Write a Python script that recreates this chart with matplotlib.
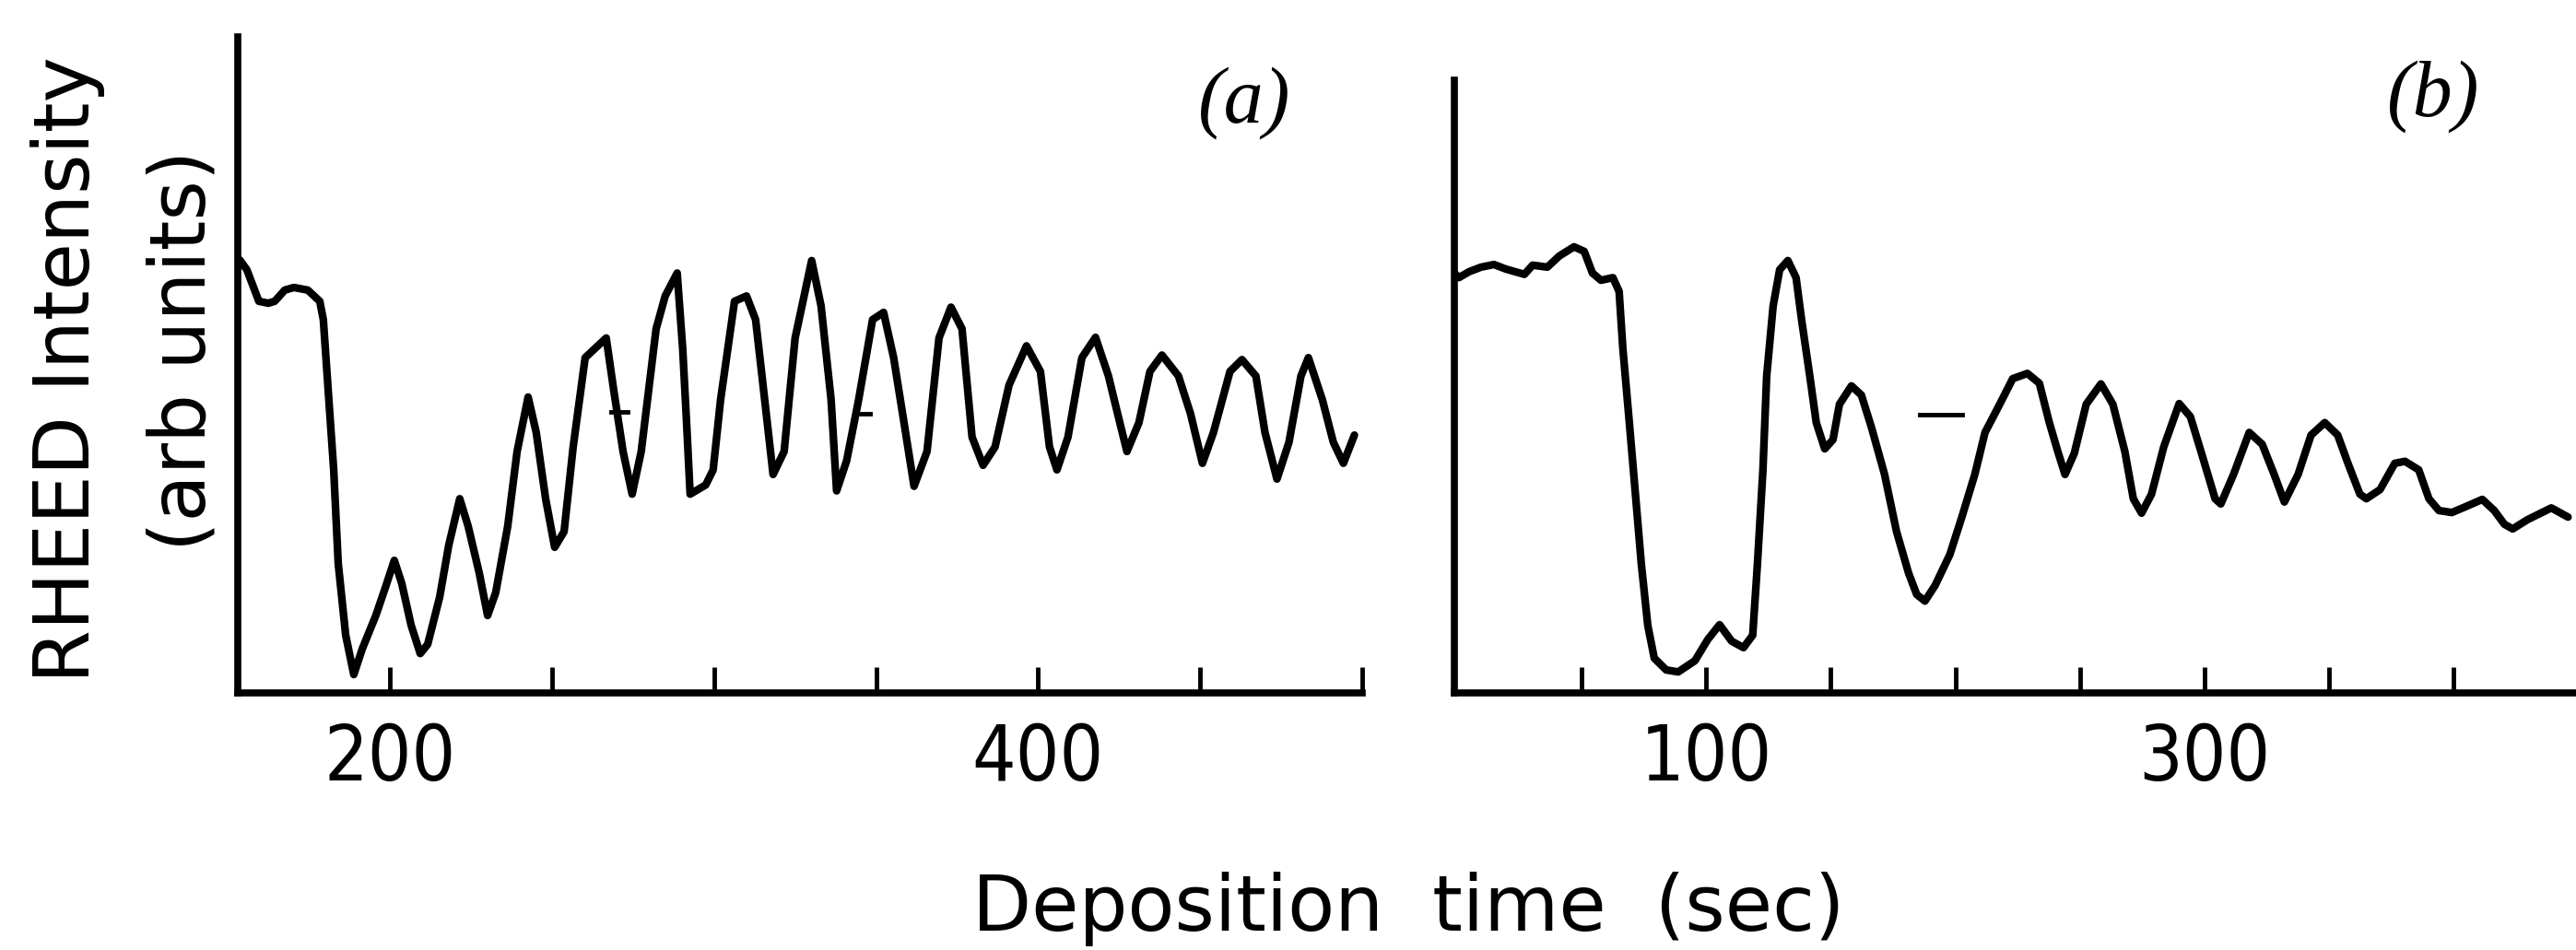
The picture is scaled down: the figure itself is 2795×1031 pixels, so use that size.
import matplotlib
matplotlib.use("Agg")
import matplotlib.pyplot as plt

# ---- data: panel (a) ----
time_a = [153.6, 155.8, 159.5, 162.4, 164.4, 167.5, 170.3, 174.6, 178.3, 179.4,
          181.1, 182.6, 184.0, 186.3, 188.8, 191.4, 195.6, 198.5, 201.3, 203.6,
          206.5, 209.3, 211.6, 215.3, 218.1, 221.5, 224.1, 227.5, 230.1, 232.6,
          236.3, 239.2, 242.6, 245.1, 248.0, 250.8, 253.7, 256.5, 260.2, 266.7,
          269.0, 271.9, 274.7, 277.5, 282.1, 284.9, 288.6, 290.3, 291.5, 292.6,
          297.4, 299.7, 302.0, 306.3, 310.0, 312.8, 315.6, 318.2, 321.6, 325.0,
          330.1, 333.0, 336.1, 337.8, 340.9, 344.6, 348.9, 352.3, 355.4, 358.6,
          361.7, 365.7, 369.4, 373.1, 376.5, 379.6, 383.0, 386.7, 391.0, 396.4,
          400.7, 403.5, 405.8, 409.2, 413.5, 417.7, 421.7, 424.5, 427.4, 431.1,
          434.5, 438.2, 443.3, 447.0, 450.7, 454.1, 459.2, 462.9, 467.2, 470.0,
          473.7, 477.4, 481.1, 483.4, 487.7, 491.1, 494.2, 497.6]
intensity_a = [66.0, 64.5, 59.7, 59.4, 59.7, 61.4, 61.8, 61.4, 59.7, 56.9,
               44.7, 34.0, 19.7, 8.8, 2.8, 6.7, 11.8, 16.0, 20.2, 16.7,
               10.3, 6.0, 7.4, 14.6, 22.5, 29.6, 25.4, 18.3, 11.8, 15.3,
               25.4, 36.8, 45.1, 39.7, 29.6, 22.2, 24.6, 37.5, 51.1, 54.1,
               46.2, 36.8, 30.3, 36.8, 55.5, 60.5, 64.0, 52.5, 41.2, 30.3,
               31.7, 34.0, 44.7, 59.7, 60.5, 56.9, 44.7, 33.3, 36.8, 54.1,
               65.9, 59.0, 44.7, 30.8, 35.4, 44.7, 56.9, 58.0, 51.1, 41.2,
               31.5, 36.8, 54.1, 58.8, 55.5, 39.0, 34.7, 37.5, 46.9, 52.9,
               49.0, 37.5, 34.0, 39.0, 51.1, 54.2, 48.3, 42.6, 36.8, 41.2,
               49.0, 51.5, 48.3, 42.6, 35.0, 39.7, 49.0, 50.8, 48.3, 39.7,
               32.6, 38.2, 48.3, 51.1, 44.7, 38.2, 35.0, 39.3]

# ---- data: panel (b) ----
time_b = [-1.0, 0.8, 4.9, 9.7, 14.9, 19.7, 27.1, 30.4, 36.3, 41.1,
          47.0, 51.1, 54.4, 57.8, 62.6, 65.1, 66.6, 69.2, 71.8, 74.0,
          76.6, 79.2, 84.0, 88.8, 95.5, 100.6, 105.4, 110.2, 115.0, 118.7,
          120.6, 122.8, 124.3, 126.9, 129.5, 132.8, 136.1, 138.3, 141.6, 144.2,
          147.6, 150.9, 153.5, 158.3, 162.3, 166.4, 171.6, 176.4, 181.2, 184.5,
          187.8, 191.9, 197.8, 202.6, 207.8, 211.9, 217.8, 223.0, 228.9, 233.7,
          237.7, 241.1, 244.0, 247.7, 252.5, 258.4, 263.2, 268.0, 271.4, 274.7,
          278.7, 283.6, 289.8, 294.3, 299.1, 304.2, 306.5, 311.6, 317.9, 323.1,
          327.9, 332.0, 337.5, 342.7, 348.2, 353.4, 357.5, 362.3, 364.9, 370.4,
          376.3, 380.4, 385.9, 390.0, 394.0, 399.2, 404.8, 411.4, 416.2, 420.3,
          423.6, 429.5, 439.1, 445.8]
intensity_b = [64.0, 63.3, 64.2, 64.9, 65.3, 64.6, 63.8, 65.2, 64.9, 66.6,
               68.0, 67.3, 64.0, 62.9, 63.3, 61.2, 52.5, 41.2, 29.6, 19.7,
               10.3, 5.3, 3.5, 3.2, 4.9, 8.1, 10.4, 7.9, 6.9, 8.8,
               19.7, 34.0, 48.3, 59.0, 64.5, 65.9, 63.3, 56.9, 48.3, 41.2,
               37.2, 38.6, 44.0, 46.8, 45.4, 40.4, 33.3, 24.6, 18.3, 15.0,
               14.0, 16.4, 21.1, 26.8, 33.3, 39.7, 44.0, 47.9, 48.7, 47.2,
               41.2, 36.8, 33.3, 36.5, 44.0, 47.1, 44.0, 36.8, 29.6, 27.4,
               30.3, 37.5, 44.1, 42.1, 36.1, 29.6, 28.8, 33.3, 39.7, 37.9,
               33.3, 29.1, 33.3, 39.3, 41.2, 39.3, 35.0, 30.3, 29.6, 31.0,
               35.0, 35.3, 34.0, 29.6, 27.8, 27.5, 28.4, 29.5, 27.8, 25.7,
               25.0, 26.4, 28.2, 26.8]

# small reference dashes (x start, x end, level)
dash_a = [(268.2, 273.3, 42.8), (345.3, 348.2, 42.6)]
dash_b = [(185.6, 202.6, 42.4)]

ticks_a = [200, 250, 300, 350, 400, 450, 500]
ticklabels_a = ["200", "", "", "", "400", "", ""]
ticks_b = [50, 100, 150, 200, 250, 300, 350, 400]
ticklabels_b = ["", "100", "", "", "", "300", "", ""]

W, H = 2795, 1031
fig = plt.figure(figsize=(W / 100, H / 100), dpi=100)
fs = 60

ax_a = fig.add_axes([258 / W, 279 / H, 1220 / W, 712 / H])
ax_b = fig.add_axes([1578 / W, 279 / H, 1217 / W, 712 / H])

for ax, t, v, dashes, ticks, labels, xlim, top in [
        (ax_a, time_a, intensity_a, dash_a, ticks_a, ticklabels_a, (153, 500), 100),
        (ax_b, time_b, intensity_b, dash_b, ticks_b, ticklabels_b, (-1, 449), 93.4)]:
    ax.plot(t, v, color="black", lw=6, solid_joinstyle="round", solid_capstyle="round")
    for x0, x1, lev in dashes:
        ax.plot([x0, x1], [lev, lev], color="black", lw=3.5)
    ax.set_xlim(*xlim)
    ax.set_ylim(0, 100)
    ax.spines["top"].set_visible(False)
    ax.spines["right"].set_visible(False)
    for s in ("left", "bottom"):
        ax.spines[s].set_linewidth(5.5)
    ax.spines["left"].set_bounds(0, top)
    ax.set_yticks([])
    ax.set_xticks(ticks)
    ax.set_xticklabels(labels, fontstretch="condensed")
    ax.tick_params(axis="x", direction="in", length=20, width=3.5,
                   labelsize=fs, pad=22)
    ax.patch.set_alpha(0)

fig.text(1350 / W, 1 - 112 / H, "(a)", fontsize=62, family="Liberation Serif",
         style="italic", ha="center", va="center")
fig.text(2640 / W, 1 - 105 / H, "(b)", fontsize=62, family="Liberation Serif",
         style="italic", ha="center", va="center")

fig.text(74 / W, 1 - 401 / H, "RHEED Intensity", fontsize=fs, rotation=90,
         ha="center", va="center")
fig.text(199 / W, 1 - 380 / H, "(arb units)", fontsize=fs, rotation=90,
         ha="center", va="center")
fig.text(1528 / W, 1 - 1010 / H, "Deposition  time  (sec)", fontsize=fs,
         ha="center", va="baseline")

fig.savefig("out.png", dpi=100)
